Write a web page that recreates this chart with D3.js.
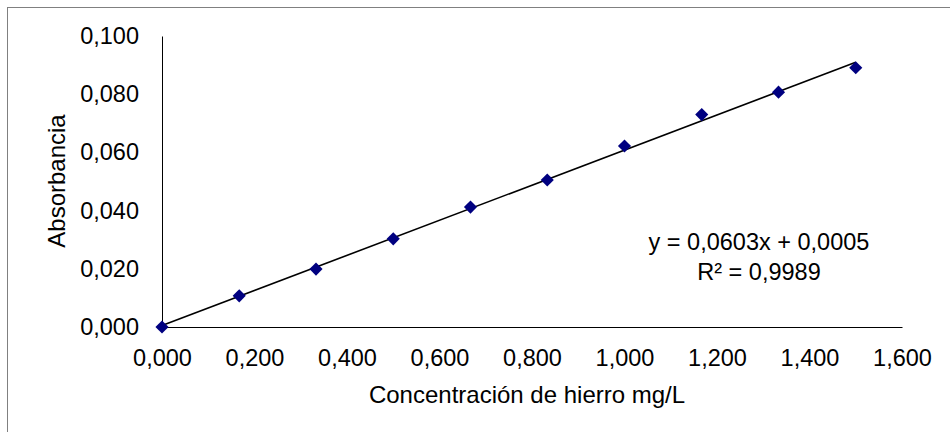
<!DOCTYPE html>
<html>
<head>
<meta charset="utf-8">
<script src="https://cdn.jsdelivr.net/npm/d3@7"></script>
<style>
  body { margin: 0; background: #fff; }
  text { font-family: Arial, "Liberation Sans", sans-serif; fill: #000; }
</style>
</head>
<body>
<div id="chart"></div>
<script>
// concentraciones (mg/L) y absorbancias
let concentracion = [0.000, 0.167, 0.333, 0.500, 0.667, 0.833, 1.000, 1.167, 1.333, 1.500];
let absorbancia = [0.0000, 0.0107, 0.0199, 0.0303, 0.0412, 0.0505, 0.0622, 0.0730, 0.0807, 0.0891];
let x_ticks = [0, 0.2, 0.4, 0.6, 0.8, 1.0, 1.2, 1.4, 1.6];
let y_ticks = [0, 0.02, 0.04, 0.06, 0.08, 0.1];
// linea de tendencia
let pendiente = 0.0603, intercepto = 0.0005;
let ecuacion = ["y = 0,0603x + 0,0005", "R² = 0,9989"];

let width = 950, height = 432;
let margin = {top: 36, right: 48, bottom: 105, left: 162};

let locale = d3.formatLocale({decimal: ",", thousands: ".", grouping: [3], currency: ["", ""]});
let fmt = locale.format(".3f");

let svg = d3.select("#chart")
    .append("svg")
    .attr("width", width)
    .attr("height", height);

// marco del area del grafico
svg.append("rect")
    .attr("x", 7.5)
    .attr("y", 7.5)
    .attr("width", width)
    .attr("height", height)
    .attr("fill", "none")
    .attr("stroke", "#808080")
    .attr("stroke-width", 1);

let g = svg.append("g")
    .attr("transform", `translate(${margin.left},${margin.top})`);

let plot_w = width - margin.left - margin.right,
    plot_h = height - margin.top - margin.bottom;

let x = d3.scaleLinear()
    .domain([0, 1.6])
    .range([0, plot_w]);

let y = d3.scaleLinear()
    .domain([0, 0.1])
    .range([plot_h, 0]);

let yAxis = g.append("g")
    .call(d3.axisLeft(y).tickValues(y_ticks).tickFormat(fmt).tickSize(0).tickSizeOuter(0).tickPadding(23));

let xAxis = g.append("g")
    .attr("transform", `translate(0,${plot_h})`)
    .call(d3.axisBottom(x).tickValues(x_ticks).tickFormat(fmt).tickSize(0).tickSizeOuter(0).tickPadding(22));

[xAxis, yAxis].forEach(function(a) {
    a.select(".domain").attr("stroke", "#000").attr("stroke-width", 1);
    a.selectAll("text").style("font-size", "23.5px").attr("fill", "#000");
});

// linea de tendencia
let line = d3.line()
    .x(function(d) { return x(d); })
    .y(function(d) { return y(pendiente * d + intercepto); });

g.append("path")
    .datum([0, d3.max(concentracion)])
    .attr("d", line)
    .attr("fill", "none")
    .attr("stroke", "#000")
    .attr("stroke-width", 1.6);

// puntos (rombos)
let diamond = d3.symbol().type(d3.symbolSquare).size(86);

g.selectAll(".punto")
    .data(concentracion)
    .enter()
    .append("path")
    .attr("class", "punto")
    .attr("d", diamond)
    .attr("transform", function(d, i) {
        return `translate(${x(d)},${y(absorbancia[i])}) rotate(45)`;
    })
    .attr("fill", "#000080");

// ecuacion
g.selectAll(".eq")
    .data(ecuacion)
    .enter()
    .append("text")
    .attr("class", "eq")
    .attr("x", 597)
    .attr("y", function(d, i) { return 214 + i * 30; })
    .style("text-anchor", "middle")
    .style("font-size", "23.5px")
    .text(function(d) { return d; });

// titulos de ejes
svg.append("text")
    .attr("transform", `translate(527,403)`)
    .style("text-anchor", "middle")
    .style("font-size", "24px")
    .text("Concentración de hierro mg/L");

svg.append("text")
    .attr("transform", `translate(65,181) rotate(-90)`)
    .style("text-anchor", "middle")
    .style("font-size", "24px")
    .text("Absorbancia");
</script>
</body>
</html>
